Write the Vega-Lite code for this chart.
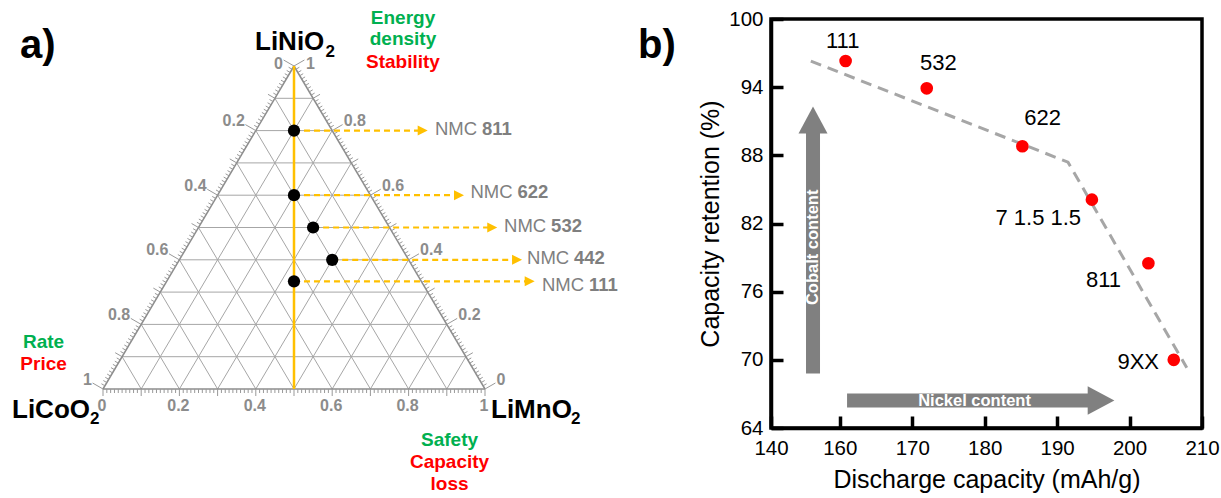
{
"$schema":"https://vega.github.io/schema/vega-lite/v6.json",
"background":"white",
"padding":{"left":0,"top":7,"right":0,"bottom":0},
"spacing":6,
"config":{"view":{"stroke":null},"font":"Liberation Sans"},
"datasets":{
 "gridT":[{"t":0.1},{"t":0.2},{"t":0.3},{"t":0.4},{"t":0.5},{"t":0.6},{"t":0.7},{"t":0.8},{"t":0.9}],
 "ticks":[{"k":0},{"k":1},{"k":2},{"k":3},{"k":4},{"k":5},{"k":6},{"k":7},{"k":8},{"k":9},{"k":10},{"k":11},{"k":12},{"k":13},{"k":14},{"k":15},{"k":16},{"k":17},{"k":18},{"k":19},{"k":20},{"k":21},{"k":22},{"k":23},{"k":24},{"k":25},{"k":26},{"k":27},{"k":28},{"k":29},{"k":30},{"k":31},{"k":32},{"k":33},{"k":34},{"k":35},{"k":36},{"k":37},{"k":38},{"k":39},{"k":40},{"k":41},{"k":42},{"k":43},{"k":44},{"k":45},{"k":46},{"k":47},{"k":48},{"k":49},{"k":50},{"k":51},{"k":52},{"k":53},{"k":54},{"k":55},{"k":56},{"k":57},{"k":58},{"k":59},{"k":60},{"k":61},{"k":62},{"k":63},{"k":64},{"k":65},{"k":66},{"k":67},{"k":68},{"k":69},{"k":70},{"k":71},{"k":72},{"k":73},{"k":74},{"k":75},{"k":76},{"k":77},{"k":78},{"k":79},{"k":80},{"k":81},{"k":82},{"k":83},{"k":84},{"k":85},{"k":86},{"k":87},{"k":88},{"k":89},{"k":90},{"k":91},{"k":92},{"k":93},{"k":94},{"k":95},{"k":96},{"k":97},{"k":98},{"k":99},{"k":100}],
 "axLab":[{"t":0,"lab":"0"},{"t":0.2,"lab":"0.2"},{"t":0.4,"lab":"0.4"},{"t":0.6,"lab":"0.6"},{"t":0.8,"lab":"0.8"},{"t":1,"lab":"1"}],
 "nmc":[
  {"name":"811","Ni":0.8,"Co":0.1,"Mn":0.1,"tip":0.850,"lu":0.869,"lv":0.8037},
  {"name":"622","Ni":0.6,"Co":0.2,"Mn":0.2,"tip":0.945,"lu":0.962,"lv":0.6105},
  {"name":"532","Ni":0.5,"Co":0.2,"Mn":0.3,"tip":1.032,"lu":1.050,"lv":0.5046},
  {"name":"442","Ni":0.4,"Co":0.2,"Mn":0.4,"tip":1.097,"lu":1.110,"lv":0.4056},
  {"name":"111","Ni":0.3333,"Co":0.3333,"Mn":0.3333,"tip":1.130,"lu":1.149,"lv":0.3232}
 ],
 "nmcb":[
  {"label":"111","x":160.8,"y":96.3,"lx":160.4,"ly":98.1},
  {"label":"532","x":172.0,"y":93.9,"lx":173.6,"ly":96.1},
  {"label":"622","x":185.2,"y":88.8,"lx":188.0,"ly":91.3},
  {"label":"7 1.5 1.5","x":194.8,"y":84.1,"lx":187.4,"ly":82.5},
  {"label":"811","x":202.6,"y":78.5,"lx":196.4,"ly":77.05},
  {"label":"9XX","x":206.1,"y":70.0,"lx":201.2,"ly":69.8}
 ]
},
"hconcat":[
{
 "width":690,"height":480,
 "encoding":{
  "x":{"field":"x","type":"quantitative","scale":{"domain":[-0.269634,1.536649],"nice":false,"zero":false},"axis":null},
  "y":{"field":"y","type":"quantitative","scale":{"domain":[-0.340557,1.145511],"nice":false,"zero":false},"axis":null}
 },
 "layer":[
  {"data":{"name":"gridT"},
   "transform":[{"calculate":"datum.t/2","as":"x"},{"calculate":"datum.t","as":"y"},{"calculate":"1-datum.t/2","as":"x2"},{"calculate":"datum.t","as":"y2"}],
   "mark":{"type":"rule","color":"#a6a6a6","strokeWidth":1},
   "encoding":{"x2":{"field":"x2"},"y2":{"field":"y2"}}},
  {"data":{"name":"gridT"},
   "transform":[{"calculate":"datum.t","as":"x"},{"calculate":"0","as":"y"},{"calculate":"(1+datum.t)/2","as":"x2"},{"calculate":"1-datum.t","as":"y2"}],
   "mark":{"type":"rule","color":"#a6a6a6","strokeWidth":1},
   "encoding":{"x2":{"field":"x2"},"y2":{"field":"y2"}}},
  {"data":{"name":"gridT"},
   "transform":[{"calculate":"datum.t","as":"x"},{"calculate":"0","as":"y"},{"calculate":"datum.t/2","as":"x2"},{"calculate":"datum.t","as":"y2"}],
   "mark":{"type":"rule","color":"#a6a6a6","strokeWidth":1},
   "encoding":{"x2":{"field":"x2"},"y2":{"field":"y2"}}},
  {"data":{"values":[{"x":0,"y":0,"x2":1,"y2":0},{"x":0,"y":0,"x2":0.5,"y2":1},{"x":1,"y":0,"x2":0.5,"y2":1}]},
   "mark":{"type":"rule","color":"#8c8c8c","strokeWidth":1.5},
   "encoding":{"x2":{"field":"x2"},"y2":{"field":"y2"}}},
  {"data":{"name":"ticks"},
   "transform":[{"calculate":"datum.k/100","as":"t"},{"calculate":"datum.k%10==0?7:4","as":"L"},{"calculate":"datum.t","as":"x"},{"calculate":"0","as":"y"},{"calculate":"datum.t","as":"x2"},{"calculate":"-datum.L/323","as":"y2"}],
   "mark":{"type":"rule","color":"#999999","strokeWidth":1},
   "encoding":{"x2":{"field":"x2"},"y2":{"field":"y2"}}},
  {"data":{"name":"ticks"},
   "transform":[{"calculate":"datum.k/100","as":"t"},{"calculate":"datum.k%20==0?12:(datum.k%10==0?8:4)","as":"L"},{"calculate":"(1-datum.t)/2","as":"x"},{"calculate":"1-datum.t","as":"y"},{"calculate":"datum.x-0.866*datum.L/382","as":"x2"},{"calculate":"datum.y+0.5*datum.L/323","as":"y2"}],
   "mark":{"type":"rule","color":"#999999","strokeWidth":1},
   "encoding":{"x2":{"field":"x2"},"y2":{"field":"y2"}}},
  {"data":{"name":"ticks"},
   "transform":[{"calculate":"datum.k/100","as":"t"},{"calculate":"datum.k%20==0?12:(datum.k%10==0?8:4)","as":"L"},{"calculate":"1-datum.t/2","as":"x"},{"calculate":"datum.t","as":"y"},{"calculate":"datum.x+0.866*datum.L/382","as":"x2"},{"calculate":"datum.y+0.5*datum.L/323","as":"y2"}],
   "mark":{"type":"rule","color":"#999999","strokeWidth":1},
   "encoding":{"x2":{"field":"x2"},"y2":{"field":"y2"}}},
  {"data":{"name":"axLab"},
   "transform":[{"calculate":"datum.t","as":"x"},{"calculate":"0","as":"y"}],
   "mark":{"type":"text","align":"center","baseline":"middle","dy":17,"dx":-1,"fontSize":16,"fontWeight":"bold","color":"#8c8c8c"},
   "encoding":{"text":{"field":"lab"}}},
  {"data":{"name":"axLab"},
   "transform":[{"filter":"datum.t > 0"},{"calculate":"(1-datum.t)/2","as":"x"},{"calculate":"1-datum.t","as":"y"}],
   "mark":{"type":"text","align":"right","baseline":"middle","dx":-11,"dy":-9.5,"fontSize":16,"fontWeight":"bold","color":"#8c8c8c"},
   "encoding":{"text":{"field":"lab"}}},
  {"data":{"name":"axLab"},
   "transform":[{"filter":"datum.t == 0"},{"calculate":"(1-datum.t)/2","as":"x"},{"calculate":"1-datum.t","as":"y"}],
   "mark":{"type":"text","align":"right","baseline":"middle","dx":-11,"dy":-2.5,"fontSize":16,"fontWeight":"bold","color":"#8c8c8c"},
   "encoding":{"text":{"field":"lab"}}},
  {"data":{"name":"axLab"},
   "transform":[{"filter":"datum.t < 1"},{"calculate":"1-datum.t/2","as":"x"},{"calculate":"datum.t","as":"y"}],
   "mark":{"type":"text","align":"left","baseline":"middle","dx":11.5,"dy":-9.5,"fontSize":16,"fontWeight":"bold","color":"#8c8c8c"},
   "encoding":{"text":{"field":"lab"}}},
  {"data":{"name":"axLab"},
   "transform":[{"filter":"datum.t == 1"},{"calculate":"1-datum.t/2","as":"x"},{"calculate":"datum.t","as":"y"}],
   "mark":{"type":"text","align":"left","baseline":"middle","dx":12,"dy":-2.5,"fontSize":16,"fontWeight":"bold","color":"#8c8c8c"},
   "encoding":{"text":{"field":"lab"}}},
  {"data":{"values":[{"x":0.5,"y":0,"x2":0.5,"y2":1}]},
   "mark":{"type":"rule","color":"#ffc000","strokeWidth":2.5},
   "encoding":{"x2":{"field":"x2"},"y2":{"field":"y2"}}},
  {"data":{"name":"nmc"},
   "transform":[{"calculate":"datum.Mn+datum.Ni/2","as":"x"},{"calculate":"datum.Ni","as":"y"},{"calculate":"datum.tip-0.02","as":"x2"}],
   "mark":{"type":"rule","color":"#ffc000","strokeWidth":2.2,"strokeDash":[6,4]},
   "encoding":{"x2":{"field":"x2"}}},
  {"data":{"name":"nmc"},
   "transform":[{"calculate":"datum.tip","as":"x"},{"calculate":"datum.Ni","as":"y"}],
   "mark":{"type":"point","shape":"M-2,-1L0,0L-2,1Z","size":100,"filled":true,"color":"#ffc000","opacity":1}},
  {"data":{"name":"nmc"},
   "transform":[{"calculate":"datum.Mn+datum.Ni/2","as":"x"},{"calculate":"datum.Ni","as":"y"}],
   "mark":{"type":"circle","size":150,"color":"#000000","opacity":1}},
  {"data":{"name":"nmc"},
   "transform":[{"calculate":"datum.lu","as":"x"},{"calculate":"datum.lv","as":"y"}],
   "mark":{"type":"text","align":"left","baseline":"middle","fontSize":18.5,"color":"#7f7f7f","text":"NMC"}},
  {"data":{"name":"nmc"},
   "transform":[{"calculate":"datum.lu","as":"x"},{"calculate":"datum.lv","as":"y"}],
   "mark":{"type":"text","align":"left","baseline":"middle","fontSize":18.5,"fontWeight":"bold","color":"#7f7f7f","dx":47},
   "encoding":{"text":{"field":"name"}}},
  {"data":{"values":[{"txt":"LiNiO","x":0.3979,"y":1.0495},{"txt":"LiCoO","x":-0.2382,"y":-0.0898},{"txt":"LiMnO","x":1.0157,"y":-0.0898}]},
   "mark":{"type":"text","align":"left","baseline":"alphabetic","fontSize":26,"fontWeight":"bold","color":"#000000"},
   "encoding":{"text":{"field":"txt"}}},
  {"data":{"values":[{"txt":"2","x":0.5825,"y":1.0279},{"txt":"2","x":-0.0340,"y":-0.1084},{"txt":"2","x":1.2250,"y":-0.1084}]},
   "mark":{"type":"text","align":"left","baseline":"alphabetic","fontSize":17,"fontWeight":"bold","color":"#000000"},
   "encoding":{"text":{"field":"txt"}}},
  {"data":{"values":[{"txt":"Energy","x":0.7853,"y":1.1313,"c":"g"},{"txt":"density","x":0.7853,"y":1.0641,"c":"g"},{"txt":"Stability","x":0.7853,"y":0.9947,"c":"r"},{"txt":"Rate","x":-0.1555,"y":0.1269,"c":"g"},{"txt":"Price","x":-0.1555,"y":0.0598,"c":"r"},{"txt":"Safety","x":0.9071,"y":-0.1765,"c":"g"},{"txt":"Capacity","x":0.9071,"y":-0.2446,"c":"r"},{"txt":"loss","x":0.9071,"y":-0.3127,"c":"r"}]},
   "mark":{"type":"text","align":"center","baseline":"alphabetic","fontSize":19,"fontWeight":"bold"},
   "encoding":{"text":{"field":"txt"},"color":{"field":"c","type":"nominal","scale":{"domain":["g","r"],"range":["#00b050","#ff0000"]},"legend":null}}},
  {"data":{"values":[{"txt":"a)","x":-0.2173,"y":1.0248},{"txt":"b)","x":1.4005,"y":1.0248}]},
   "mark":{"type":"text","align":"left","baseline":"alphabetic","fontSize":40,"fontWeight":"bold","color":"#000000"},
   "encoding":{"text":{"field":"txt"}}}
 ]
},
{
 "width":431,"height":409,
 "view":{"stroke":"#000000","strokeWidth":3.5},
 "encoding":{
  "x":{"field":"x","type":"quantitative","scale":{"domain":[150.5,210],"nice":false,"zero":false},
   "axis":{"values":[150.5,160,170,180,190,200,210],"labelExpr":"datum.value < 155 ? '140' : datum.label","title":"Discharge capacity (mAh/g)","titleFontSize":25,"titleFontWeight":"normal","titleColor":"#000000","titlePadding":8.5,"labelFontSize":20.5,"labelColor":"#000000","labelPadding":22,"tickSize":-12,"tickWidth":3.5,"tickColor":"#000000","domainColor":"#000000","domainWidth":3.5,"grid":false,"labelOverlap":false,"labelFlush":false,"labelBound":false}},
  "y":{"field":"y","type":"quantitative","scale":{"domain":[64,100],"nice":false,"zero":false},
   "axis":{"values":[64,70,76,82,88,94,100],"title":"Capacity retention (%)","titleFontSize":25,"titleFontWeight":"normal","titleColor":"#000000","titlePadding":5.5,"labelFontSize":20.5,"labelColor":"#000000","labelPadding":20,"tickSize":-12,"tickWidth":3.5,"tickColor":"#000000","domainColor":"#000000","domainWidth":3.5,"grid":false,"labelOverlap":false,"labelFlush":false,"labelBound":false}}
 },
 "layer":[
  {"data":{"values":[{"x":156.0,"y":96.3},{"x":191.5,"y":87.4},{"x":207.9,"y":69.3}]},
   "mark":{"type":"line","color":"#a6a6a6","strokeWidth":3,"strokeDash":[11,7]}},
  {"data":{"values":[{"x":156.3,"y":68.8,"x2":156.3,"y2":90.3},{"x":161.0,"y":66.42,"x2":194.6,"y2":66.42}]},
   "mark":{"type":"rule","color":"#808080","strokeWidth":14},
   "encoding":{"x2":{"field":"x2"},"y2":{"field":"y2"}}},
  {"data":{"values":[{"x":156.3,"y":92.3}]},
   "mark":{"type":"point","shape":"M-1,1.862L0,0L1,1.862Z","size":841,"filled":true,"color":"#808080","opacity":1}},
  {"data":{"values":[{"x":197.9,"y":66.42}]},
   "mark":{"type":"point","shape":"M-1.878,-1L0,0L-1.878,1Z","size":807,"filled":true,"color":"#808080","opacity":1}},
  {"data":{"values":[{"x":156.3,"y":79.9,"txt":"Cobalt content","a":270},{"x":178.6,"y":66.42,"txt":"Nickel content","a":0}]},
   "mark":{"type":"text","align":"center","baseline":"middle","fontSize":16.5,"fontWeight":"bold","color":"#ffffff"},
   "encoding":{"text":{"field":"txt"},"angle":{"field":"a","type":"quantitative","scale":null}}},
  {"data":{"name":"nmcb"},
   "mark":{"type":"circle","size":160,"color":"#ff0000","opacity":1}},
  {"data":{"name":"nmcb"},
   "transform":[{"calculate":"datum.lx","as":"x"},{"calculate":"datum.ly","as":"y"}],
   "mark":{"type":"text","align":"center","baseline":"middle","fontSize":22,"color":"#000000"},
   "encoding":{"text":{"field":"label"}}}
 ]
}
]
}
